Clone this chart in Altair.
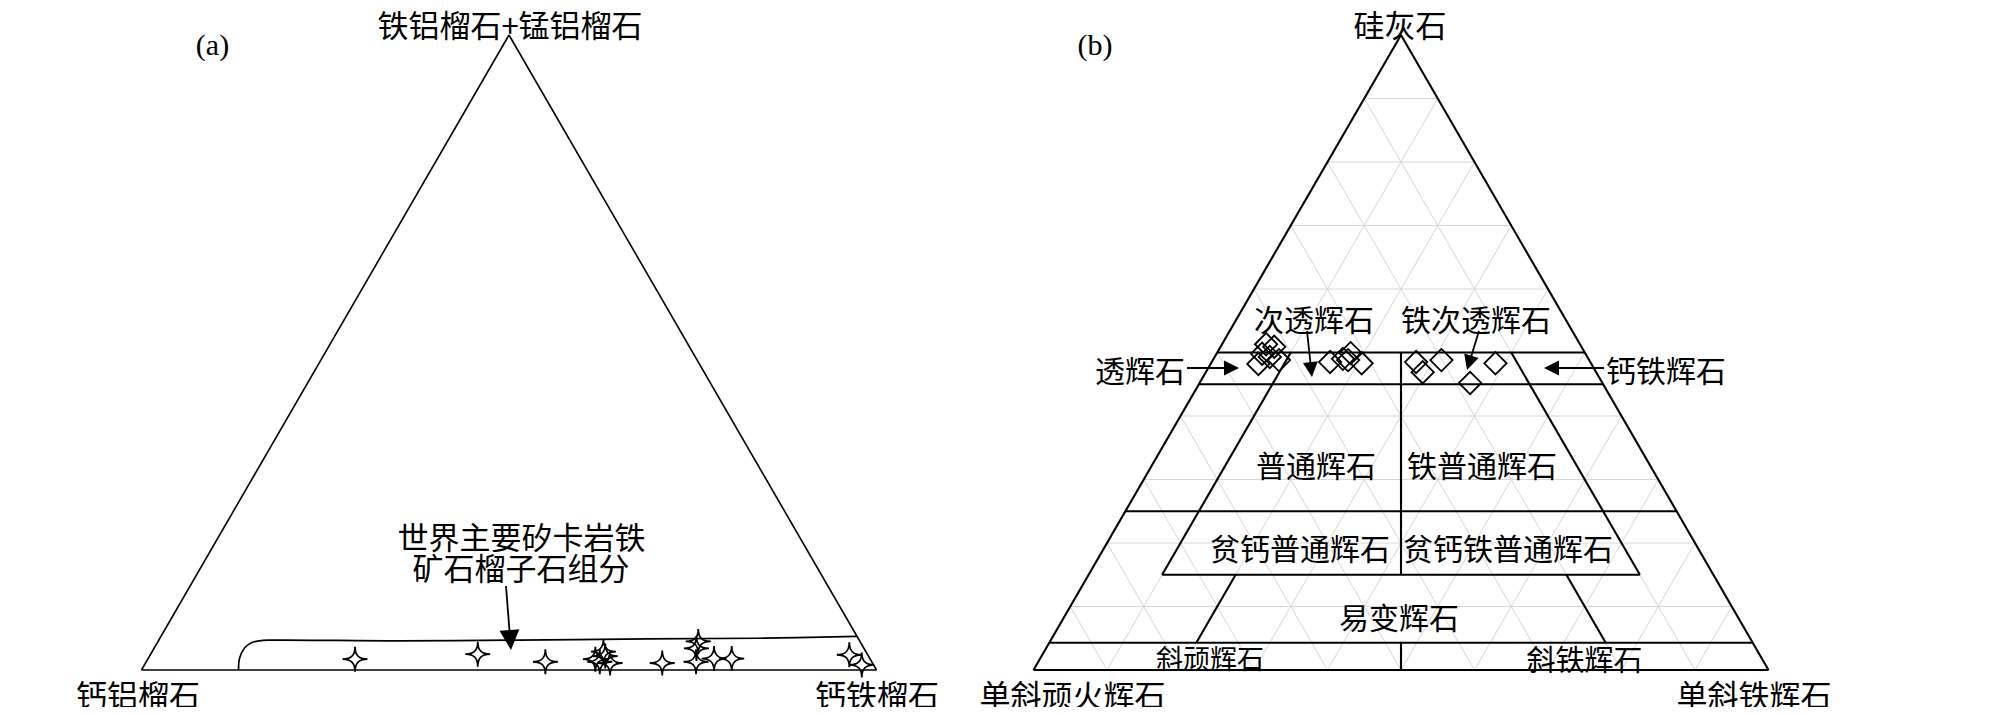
import math
import altair as alt
import pandas as pd

# ------------------------------------------------------------------
# DATA
# (a) garnet compositions (mol %): 钙铁榴石 (Adr) and 铁铝榴石+锰铝榴石 (Alm+Sps);
#     钙铝榴石 (Grs) is the remainder
garnet_adr = [28.2, 44.5, 54.3, 61.4, 60.9, 61.7, 63.2, 62.0, 70.3, 73.5, 73.8, 74.8, 77.0, 79.4, 95.1, 97.6]
garnet_almsps = [1.7, 2.5, 1.3, 2.9, 1.7, 1.3, 1.1, 2.2, 1.1, 4.5, 3.4, 1.3, 1.8, 1.8, 2.4, 0.8]

# (a) outline of the field "世界主要矽卡岩铁矿石榴子石组分"
field_adr = [13.2, 12.4, 12.3, 12.8, 13.7, 15.3, 32.7, 48.9, 66.5, 81.3, 94.7]
field_almsps = [0.0, 1.9, 3.5, 4.3, 4.6, 4.7, 4.6, 4.7, 4.9, 5.0, 5.3]

# (b) pyroxene compositions (mol %): 硅灰石 (Wo) and 单斜铁辉石 (Fs); 单斜顽火辉石 (En) remainder
pyx_wo = [51.3, 50.9, 49.8, 48.2, 49.3, 48.8, 48.5, 49.0, 49.9, 48.8, 48.3, 48.5, 46.9, 48.8, 45.2, 48.3]
pyx_fs = [6.0, 7.3, 6.2, 6.5, 7.5, 9.0, 16.1, 17.6, 18.2, 18.4, 20.5, 27.8, 29.5, 31.1, 36.8, 38.7]

# (b) classification boundaries, (Wo, Fs) start -> (Wo, Fs) end
bound_wo1 = [50, 45, 25, 15, 4.3, 50, 50, 50, 15, 15, 4.3]
bound_fs1 = [0, 0, 0, 10, 0, 10, 25, 40, 20, 65, 47.85]
bound_wo2 = [50, 45, 25, 15, 4.3, 15, 15, 15, 4.3, 4.3, 0]
bound_fs2 = [50, 55, 75, 75, 95.7, 10, 42.5, 75, 20, 75.7, 50]

# (b) background grid levels (%)
grid_levels = [10, 20, 30, 40, 50, 60, 70, 80, 90]

# text
a_tag, b_tag = "(a)", "(b)"
a_vertex_labels = ["钙铝榴石", "钙铁榴石", "铁铝榴石+锰铝榴石"]
a_field_label = ["世界主要矽卡岩铁", "矿石榴子石组分"]
b_vertex_labels = ["单斜顽火辉石", "单斜铁辉石", "硅灰石"]
b_field_labels = ["次透辉石", "铁次透辉石", "透辉石", "钙铁辉石", "普通辉石", "铁普通辉石",
                  "贫钙普通辉石", "贫钙铁普通辉石", "易变辉石", "斜顽辉石", "斜铁辉石"]

# ------------------------------------------------------------------
# LAYOUT (plot units: triangle side = 1 horizontally, height = 1 vertically)
PX_U, PX_V = 735.0, 635.0
W, H = 1992, 699
XD = [-133.5 / PX_U, (W - 133.5) / PX_U]
YD = [-37.0 / PX_V, (H - 37.0) / PX_V]
OFF_A, OFF_B = 0.0, 892.0 / PX_U

CJK = "Noto Sans CJK SC"
SERIF = "Liberation Serif"


def tern(right, top, off):
    return off + right / 100.0 + top / 200.0, top / 100.0


X = alt.X("x:Q", scale=alt.Scale(domain=XD, nice=False, zero=False), axis=None)
Y = alt.Y("y:Q", scale=alt.Scale(domain=YD, nice=False, zero=False), axis=None)


def rules(segs, color, width):
    df = pd.DataFrame(segs, columns=["x", "y", "x2", "y2"])
    return alt.Chart(df).mark_rule(color=color, strokeWidth=width).encode(
        x=X, y=Y, x2="x2:Q", y2="y2:Q")


def tri_outline(off):
    p1, p2, p3 = tern(0, 0, off), tern(100, 0, off), tern(0, 100, off)
    return [(*p1, *p2), (*p2, *p3), (*p3, *p1)]


# grid for (b)
grid = []
for k in grid_levels:
    grid.append((*tern(0, k, OFF_B), *tern(100 - k, k, OFF_B)))          # Wo = k
    grid.append((*tern(k, 0, OFF_B), *tern(k, 100 - k, OFF_B)))          # Fs = k
    grid.append((*tern(100 - k, 0, OFF_B), *tern(0, 100 - k, OFF_B)))    # En = k

bounds = [(*tern(f1, w1, OFF_B), *tern(f2, w2, OFF_B))
          for w1, f1, w2, f2 in zip(bound_wo1, bound_fs1, bound_wo2, bound_fs2)]

layers = []
layers.append(rules(grid, "#d6d6d6", 1))
layers.append(rules(tri_outline(OFF_A), "black", 1.6))
layers.append(rules(tri_outline(OFF_B) + bounds, "black", 2.1))

# field outline (a)
fx, fy = zip(*[tern(r, t, OFF_A) for r, t in zip(field_adr, field_almsps)])
field_df = pd.DataFrame({"x": fx, "y": fy, "i": range(len(fx))})
layers.append(alt.Chart(field_df).mark_line(color="black", strokeWidth=1.7, interpolate="catmull-rom")
              .encode(x=X, y=Y, order="i:Q"))

# arrows: (start_u, start_v, tip_u, tip_v, head length px)
arrows = [
    (OFF_A + 0.4959, 0.1323, OFF_A + 0.5027, 0.0315, 20),
    (OFF_B + 0.2088, 0.4756, OFF_B + 0.2796, 0.4756, 15),
    (OFF_B + 0.7762, 0.4756, OFF_B + 0.6946, 0.4756, 15),
    (OFF_B + 0.3721, 0.5339, OFF_B + 0.3789, 0.4614, 15),
    (OFF_B + 0.6061, 0.5339, OFF_B + 0.5898, 0.4724, 15),
]
shafts, heads = [], []
for su, sv, tu, tv, hl in arrows:
    dx = (tu - su) * PX_U
    dy = -(tv - sv) * PX_V
    L = math.hypot(dx, dy)
    eu = tu - (dx / L) * (0.6 * hl) / PX_U
    ev = tv + (dy / L) * (0.6 * hl) / PX_V
    shafts.append((su, sv, eu, ev))
    ang = math.degrees(math.atan2(-dx, dy)) % 360
    heads.append({"x": tu, "y": tv, "angle": ang, "size": (2 * hl) ** 2})
layers.append(rules(shafts, "black", 1.8))
ARROW = "M0,0L-0.5,-1L0.5,-1Z"
layers.append(alt.Chart(pd.DataFrame(heads)).mark_point(shape=ARROW, filled=True, color="black",
                                                        strokeWidth=0, opacity=1)
              .encode(x=X, y=Y, angle=alt.Angle("angle:Q", scale=None),
                      size=alt.Size("size:Q", scale=None, legend=None)))

# points
STAR = "M0,-1C0,-0.3 0.3,0 1,0C0.3,0 0,0.3 0,1C0,0.3 -0.3,0 -1,0C-0.3,0 0,-0.3 0,-1Z"
gx, gy = zip(*[tern(r, t, OFF_A) for r, t in zip(garnet_adr, garnet_almsps)])
layers.append(alt.Chart(pd.DataFrame({"x": gx, "y": gy})).mark_point(
    shape=STAR, size=625, filled=False, stroke="black", strokeWidth=1.8, opacity=1).encode(x=X, y=Y))
px_, py_ = zip(*[tern(f, w, OFF_B) for w, f in zip(pyx_wo, pyx_fs)])
layers.append(alt.Chart(pd.DataFrame({"x": px_, "y": py_})).mark_point(
    shape="diamond", size=500, filled=False, stroke="black", strokeWidth=1.8, opacity=1).encode(x=X, y=Y))

# texts: (u, v of glyph centre, label, font size)
V_BOTTOM = (670 - 692) / PX_V
V_TOP = (670 - 22) / PX_V
texts = [
    (OFF_A - 0.0048, V_BOTTOM, a_vertex_labels[0], 31),
    (OFF_A + 1.0007, V_BOTTOM, a_vertex_labels[1], 31),
    (OFF_A + 0.5014, V_TOP, a_vertex_labels[2], 31),
    (OFF_A + 0.5170, 0.2142, a_field_label[0], 31),
    (OFF_A + 0.5163, 0.1646, a_field_label[1], 31),
    (OFF_B + 0.0531, V_BOTTOM, b_vertex_labels[0], 31),
    (OFF_B + 0.9803, V_BOTTOM, b_vertex_labels[1], 31),
    (OFF_B + 0.4986, V_TOP, b_vertex_labels[2], 31),
]
b_pos = [(0.3816, 0.5575, 30), (0.6020, 0.5575, 30), (0.1449, 0.4772, 30), (0.8605, 0.4772, 30),
         (0.3844, 0.3276, 30), (0.6102, 0.3276, 30), (0.3626, 0.1969, 30), (0.6456, 0.1969, 30),
         (0.4973, 0.0882, 30), (0.2401, 0.0220, 27), (0.7497, 0.0220, 29)]
for (u, v, s), lab in zip(b_pos, b_field_labels):
    texts.append((OFF_B + u, v, lab, s))
tdf = pd.DataFrame(texts, columns=["x", "y", "label", "size"])
# shift so the CJK glyph body (not the font box) is centred on the given point
tdf["y"] = tdf["y"] - 0.19 * tdf["size"] / PX_V
layers.append(alt.Chart(tdf).mark_text(font=CJK, align="center", baseline="middle", color="black")
              .encode(x=X, y=Y, text="label:N", size=alt.Size("size:Q", scale=None, legend=None)))

tags = pd.DataFrame({"x": [OFF_A + 0.0966, OFF_B + 0.0837], "y": [0.982, 0.982], "label": [a_tag, b_tag]})
layers.append(alt.Chart(tags).mark_text(font=SERIF, fontSize=30, align="center", baseline="middle",
                                        color="black")
              .encode(x=X, y=Y, text="label:N"))

chart = alt.layer(*layers).properties(
    width=W, height=H, padding=0, autosize=alt.AutoSizeParams(type="none"),
    background="white").configure_view(stroke=None)

chart.save("out.html", embed_options={"renderer": "svg", "actions": False})
